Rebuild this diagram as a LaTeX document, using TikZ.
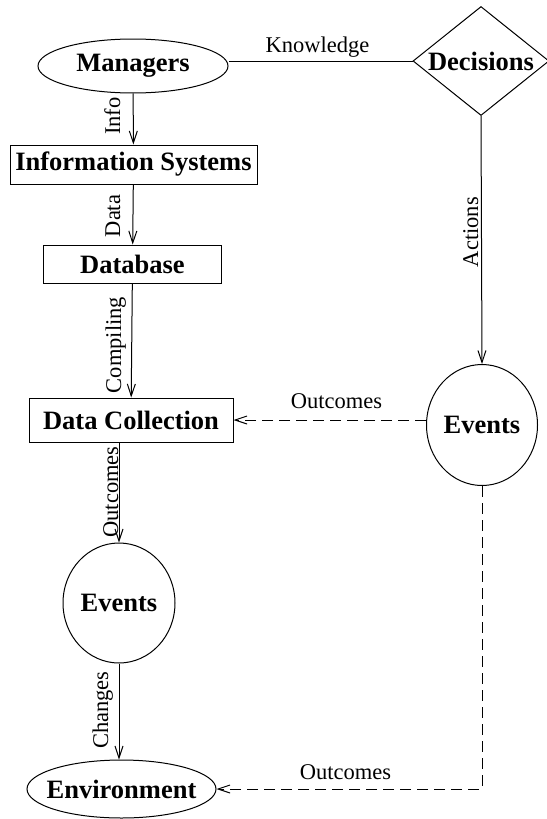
\documentclass[tikz,border=0pt]{standalone}
\usepackage{fontspec}
\setmainfont{Liberation Serif}
\usetikzlibrary{shapes.geometric,arrows.meta}
\begin{document}
\begin{tikzpicture}[x=1pt,y=-1pt,
  every node/.style={inner sep=0pt},
  base/.style={draw, line width=1pt, font=\fontsize{26.5}{30}\selectfont\bfseries},
  boxnode/.style={base, rectangle},
  ovalnode/.style={base, ellipse},
  decnode/.style={base, diamond, minimum width=136pt, minimum height=109pt},
  lbl/.style={font=\fontsize{22.5}{26}\selectfont, anchor=base},
  vlbl/.style={lbl, rotate=90},
  flow/.style={line width=1pt, -{Straight Barb[length=12pt,width=8pt]}},
  dflow/.style={flow, dash pattern=on 11pt off 6pt},
  link/.style={line width=1pt}
]
\useasboundingbox (0,0) rectangle (546,819);
\fill[white] (0,0) rectangle (546,819);

% nodes
\node[ovalnode, minimum width=190pt, minimum height=54pt] (mgr) at (133,66) {\makebox[0pt]{Managers}};
\node[decnode] (dec) at (481,61) {\makebox[0pt]{Decisions}};
\node[boxnode, minimum width=247pt, minimum height=39pt] (is) at (133.5,164.5) {Information Systems};
\node[boxnode, minimum width=178pt, minimum height=38pt] (db) at (132.5,264) {Database};
\node[boxnode, minimum width=204pt, minimum height=44pt] (dc) at (131,420) {Data Collection};
\node[ovalnode, minimum width=111pt, minimum height=121pt] (ev2) at (482,425) {\makebox[0pt]{Events}};
\node[ovalnode, minimum width=112pt, minimum height=120pt] (ev1) at (119,603) {\makebox[0pt]{Events}};
\node[ovalnode, minimum width=189pt, minimum height=58pt] (env) at (121.5,789) {\makebox[0pt]{Environment}};

% connectors
\draw[link] (dec.west) -- (dec.west -| mgr.east);
\draw[flow] (mgr) -- (is);
\draw[flow] (is) -- (db);
\draw[flow] (db) -- (dc);
\draw[flow] (dc.south -| ev1.north) -- (ev1.north);
\draw[flow] (ev1.south) -- (ev1.south |- env.north);
\draw[flow] (dec.south) -- (ev2.north);
\draw[dflow] (ev2.west |- dc.east) -- (dc.east);
\draw[dflow] (ev2.south) -- (ev2.south |- env.east) -- (env.east);

% connector labels
\node[lbl] (lk) at (317.5,52.7) {Knowledge};
\node[vlbl] (li) at (120,116) {Info};
\node[vlbl] (ld) at (120,216) {Data};
\node[vlbl] (lc) at (121,345) {Compiling};
\node[vlbl] (lo1) at (118,492) {Outcomes};
\node[vlbl] (lch) at (108,710) {Changes};
\node[vlbl] (la) at (478,232) {Actions};
\node[lbl] (lo2) at (336.5,408) {Outcomes};
\node[lbl] (lo3) at (345.5,779) {Outcomes};
\end{tikzpicture}
\end{document}
